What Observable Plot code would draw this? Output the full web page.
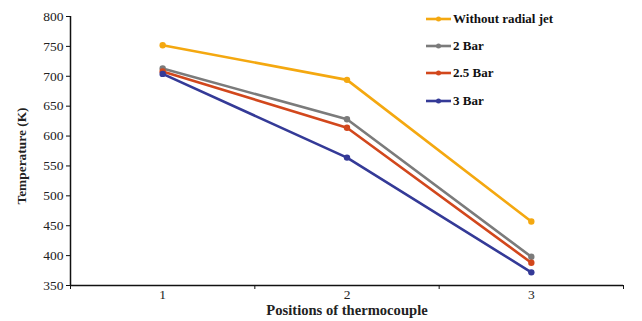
<!DOCTYPE html>
<html>
<head>
<meta charset="utf-8">
<script src="https://cdn.jsdelivr.net/npm/d3@7"></script>
<script src="https://cdn.jsdelivr.net/npm/@observablehq/plot@0.6"></script>
<style>
  html, body { margin: 0; padding: 0; background: #fff; }
  #wrap { position: relative; width: 642px; height: 321px; font-family: "Liberation Serif", "Times New Roman", Times, "DejaVu Serif", serif; }
  #wrap svg text { font-family: "Liberation Serif", "Times New Roman", Times, "DejaVu Serif", serif; }
  #legend { position: absolute; left: 426px; top: 5px; font-family: "Liberation Serif", "Times New Roman", Times, "DejaVu Serif", serif; font-weight: bold; font-size: 13px; color: #111; }
  .row { display: flex; align-items: center; height: 27.3px; }
  .row svg { margin-right: 1px; }
</style>
</head>
<body>
<div id="wrap"><div id="legend"></div></div>
<script>
const positions = [1, 2, 3];
const seriesNames = ["Without radial jet", "2 Bar", "2.5 Bar", "3 Bar"];
const seriesColors = ["#f4a810", "#7b7b7b", "#d2471c", "#343a97"];
const withoutJet = [752, 694, 457];
const bar2 = [713, 628, 398];
const bar25 = [708, 614, 388];
const bar3 = [704, 564, 372];
const yTicks = [350, 400, 450, 500, 550, 600, 650, 700, 750, 800];
const xDomain = [0.5, 3.5];
const xBoundaryTicks = [0.5, 1.5, 2.5, 3.5];
const yDomain = [350, 800];

const allSeries = [withoutJet, bar2, bar25, bar3];
const data = [];
allSeries.forEach((vals, si) => {
  vals.forEach((v, i) => data.push({ pos: positions[i], temp: v, series: seriesNames[si] }));
});

const plot = Plot.plot({
  width: 642,
  height: 321,
  marginLeft: 70,
  marginRight: 19,
  marginTop: 16,
  marginBottom: 36,
  style: { fontFamily: "'Liberation Serif', 'Times New Roman', serif", fontSize: "13px", color: "#222", background: "#fff" },
  x: { domain: xDomain, label: null },
  y: { domain: yDomain, label: null },
  color: { domain: seriesNames, range: seriesColors },
  marks: [
    Plot.axisY({ ticks: yTicks, tickSize: 4, tickPadding: 3, fontSize: 13.5, label: null, stroke: "#111" }),
    Plot.axisX({ ticks: xBoundaryTicks, tickSize: 4, tickFormat: () => "", label: null, stroke: "#111" }),
    Plot.axisX({ ticks: positions, tickSize: 0, tickPadding: 4, fontSize: 13.5, tickFormat: d3.format("d"), label: null }),
    Plot.ruleX([xDomain[0]], { stroke: "#111", strokeWidth: 1.5 }),
    Plot.ruleY([yDomain[0]], { stroke: "#111", strokeWidth: 1.5 }),
    Plot.line(data, { x: "pos", y: "temp", z: "series", stroke: "series", strokeWidth: 2.6 }),
    Plot.dot(data, { x: "pos", y: "temp", fill: "series", r: 3.2 }),
    Plot.text(["Temperature (K)"], { frameAnchor: "left", textAnchor: "middle", dx: -49, dy: 5, rotate: -90, fontWeight: "bold", fontSize: 13.4, text: d => d, fill: "#222" }),
    Plot.text(["Positions of thermocouple"], { frameAnchor: "bottom", textAnchor: "middle", dy: 29, fontWeight: "bold", fontSize: 14.6, text: d => d, fill: "#222" })
  ]
});
document.getElementById("wrap").prepend(plot);
plot.style.position = "absolute";
plot.style.left = "0";
plot.style.top = "0";

const legend = document.getElementById("legend");
seriesNames.forEach((name, i) => {
  const row = document.createElement("div");
  row.className = "row";
  row.innerHTML = `<svg width="26" height="8"><line x1="0" y1="4" x2="25" y2="4" stroke="${seriesColors[i]}" stroke-width="2.6"/><circle cx="12.5" cy="4" r="2.5" fill="${seriesColors[i]}"/></svg><span>${name}</span>`;
  legend.appendChild(row);
});
</script>
</body>
</html>
